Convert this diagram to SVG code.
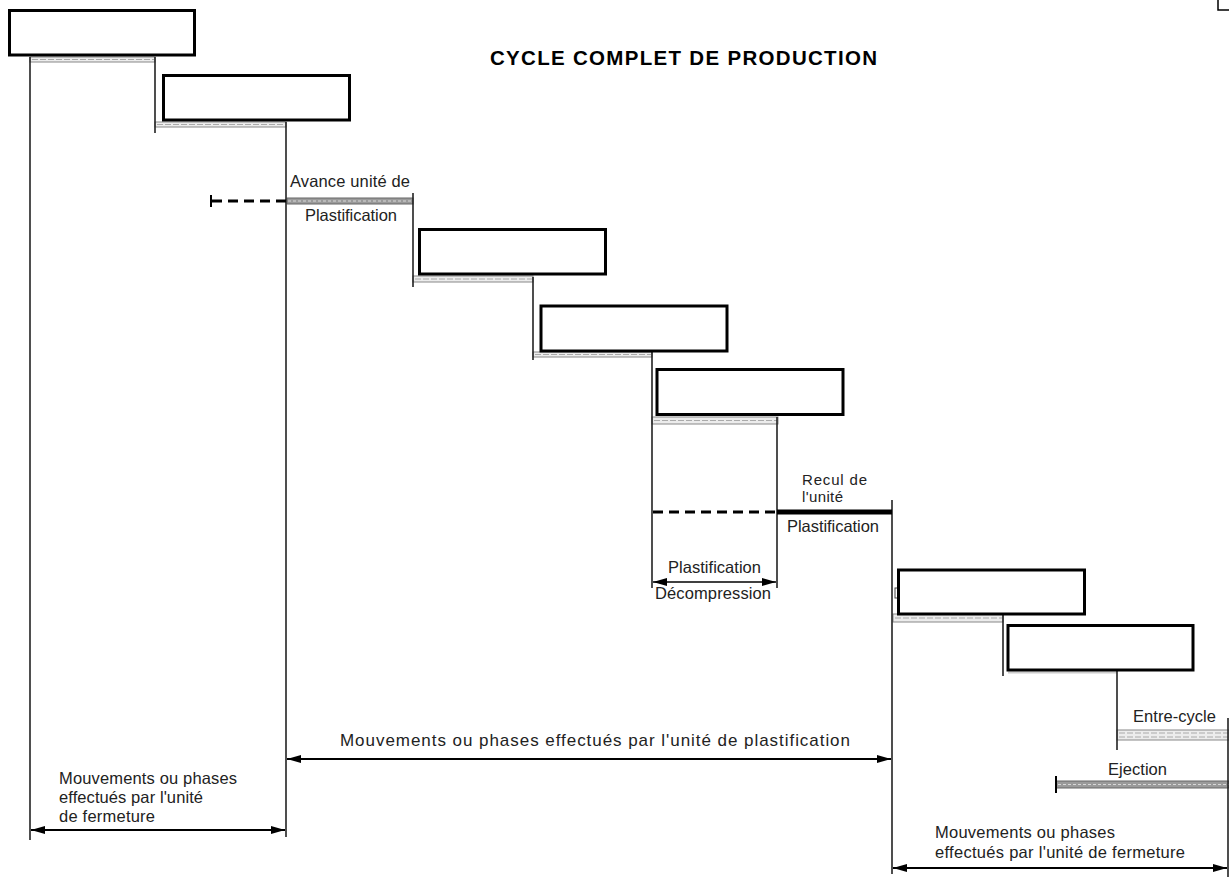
<svg xmlns="http://www.w3.org/2000/svg" width="1229" height="877" viewBox="0 0 1229 877">
<style>
.box{fill:#fff;stroke:#000;stroke-width:3}
.v{stroke:#222;stroke-width:1.6;fill:none}
.hb{fill:#ececec;stroke:#888;stroke-width:1}
.hd{stroke:#aaa;stroke-width:1.2;stroke-dasharray:6 2;fill:none}
.hbd{fill:#9a9a9a;stroke:#666;stroke-width:1}
.hdd{stroke:#d8d8d8;stroke-width:1.2;stroke-dasharray:3 2;fill:none}
.dash{stroke:#000;stroke-width:3;stroke-dasharray:10 6;fill:none}
.arr{stroke:#000;stroke-width:1.8;fill:none;marker-start:url(#ah);marker-end:url(#ah)}
.t{font-family:"Liberation Sans",Arial,sans-serif;font-size:16.5px;fill:#222}
.s{font-size:15px}
.m{font-size:17px}
.title{font-family:"Liberation Sans",Arial,sans-serif;font-size:20.5px;font-weight:bold;fill:#000}
</style>
<defs>
<marker id="ah" viewBox="0 0 14 8" refX="14" refY="4" markerWidth="14" markerHeight="8" markerUnits="userSpaceOnUse" orient="auto-start-reverse">
<path d="M0,0 L14,4 L0,8 Z" fill="#000"/>
</marker>
</defs>

<text class="title" x="490" y="65" textLength="387" lengthAdjust="spacing">CYCLE  COMPLET  DE  PRODUCTION</text>
<path d="M1218,0 V10 H1229" fill="none" stroke="#000" stroke-width="1.5"/>

<g id="bars">
<rect class="hb" x="30" y="57" width="125" height="5"/><line class="hd" x1="32" y1="59.5" x2="154" y2="59.5"/>
<rect class="hb" x="155" y="122" width="131" height="5"/><line class="hd" x1="157" y1="124.5" x2="285" y2="124.5"/>
<rect class="hbd" x="287" y="198" width="126" height="6"/><line class="hdd" x1="288" y1="201" x2="412" y2="201"/>
<rect class="hb" x="413" y="276" width="120" height="6"/><line class="hd" x1="415" y1="279" x2="532" y2="279"/>
<rect class="hb" x="533" y="352" width="119" height="5"/><line class="hd" x1="535" y1="354.5" x2="651" y2="354.5"/>
<rect class="hb" x="652" y="417" width="126" height="7"/><line class="hd" x1="654" y1="420.5" x2="777" y2="420.5"/>
<rect class="hb" x="893" y="614" width="110" height="8"/><line class="hd" x1="895" y1="618" x2="1002" y2="618"/>
<line x1="1008" y1="672.5" x2="1117" y2="672.5" stroke="#ccc" stroke-width="2"/>
<rect class="hb" x="1117" y="730" width="112" height="10"/><line class="hd" x1="1119" y1="733" x2="1229" y2="733"/><line class="hd" x1="1119" y1="737" x2="1229" y2="737"/>
<rect class="hbd" x="1056" y="781" width="173" height="7"/><line class="hdd" x1="1058" y1="784.5" x2="1229" y2="784.5"/>
</g>

<g id="connectors">
<line class="v" x1="30" y1="57" x2="30" y2="840"/>
<line class="v" x1="155" y1="57" x2="155" y2="133"/>
<line class="v" x1="286" y1="122" x2="286" y2="837"/>
<line class="v" x1="413" y1="193" x2="413" y2="287"/>
<line class="v" x1="533" y1="277" x2="533" y2="360"/>
<line class="v" x1="652" y1="352" x2="652" y2="588"/>
<line class="v" x1="777" y1="417" x2="777" y2="588"/>
<line class="v" x1="892" y1="500" x2="892" y2="874"/>
<line class="v" x1="1003" y1="614" x2="1003" y2="676"/>
<line class="v" x1="1117" y1="670" x2="1117" y2="750"/>
<line class="v" x1="1228" y1="718" x2="1228" y2="877"/>
<line x1="211" y1="195" x2="211" y2="207" stroke="#000" stroke-width="2"/>
<line x1="1056" y1="776" x2="1056" y2="793" stroke="#000" stroke-width="2"/>
<line class="dash" x1="212" y1="201" x2="286" y2="201"/>
<line class="dash" x1="653" y1="512" x2="777" y2="512"/>
<line x1="777" y1="512" x2="892" y2="512" stroke="#000" stroke-width="5"/>
<line class="arr" x1="31" y1="830" x2="285" y2="830"/>
<line class="arr" x1="287" y1="759" x2="891" y2="759"/>
<line class="arr" x1="653" y1="582" x2="776" y2="582" style="stroke-width:1.4"/>
<line class="arr" x1="893" y1="868" x2="1227" y2="868"/>
<rect x="895" y="588" width="3" height="10" fill="#fff" stroke="#444" stroke-width="1"/>
</g>

<g id="n1"><rect class="box" x="9.5" y="10.5" width="185" height="44.5"/></g>
<g id="n2"><rect class="box" x="163.5" y="75.5" width="186" height="44.5"/></g>
<g id="n3"><rect class="box" x="419.5" y="229.5" width="186" height="44.5"/></g>
<g id="n4"><rect class="box" x="541" y="306" width="186" height="45"/></g>
<g id="n5"><rect class="box" x="657" y="369.5" width="186" height="45"/></g>
<g id="n6"><rect class="box" x="898.5" y="570" width="186" height="44"/></g>
<g id="n7"><rect class="box" x="1008" y="625.5" width="185" height="44.5"/></g>

<g id="labels">
<text class="t" x="290" y="187" textLength="120">Avance unité de</text>
<text class="t" x="305" y="221" textLength="92">Plastification</text>
<text class="t s" x="802" y="485" textLength="65">Recul de</text>
<text class="t s" x="802" y="502" textLength="41">l'unité</text>
<text class="t" x="787" y="532" textLength="92">Plastification</text>
<text class="t" x="668" y="573" textLength="93">Plastification</text>
<text class="t" x="655" y="599" textLength="116">Décompression</text>
<text class="t" x="1133" y="722" textLength="83">Entre-cycle</text>
<text class="t" x="1108" y="775" textLength="59">Ejection</text>
<text class="t m" x="340" y="746" textLength="510">Mouvements ou phases effectués par l'unité de plastification</text>
<text class="t" x="59" y="784" textLength="178">Mouvements ou phases</text>
<text class="t" x="59" y="803" textLength="144">effectués par l'unité</text>
<text class="t" x="59" y="822" textLength="96">de fermeture</text>
<text class="t" x="935" y="838" textLength="180">Mouvements  ou phases</text>
<text class="t" x="935" y="858" textLength="250">effectués par l'unité  de fermeture</text>
</g>
</svg>
